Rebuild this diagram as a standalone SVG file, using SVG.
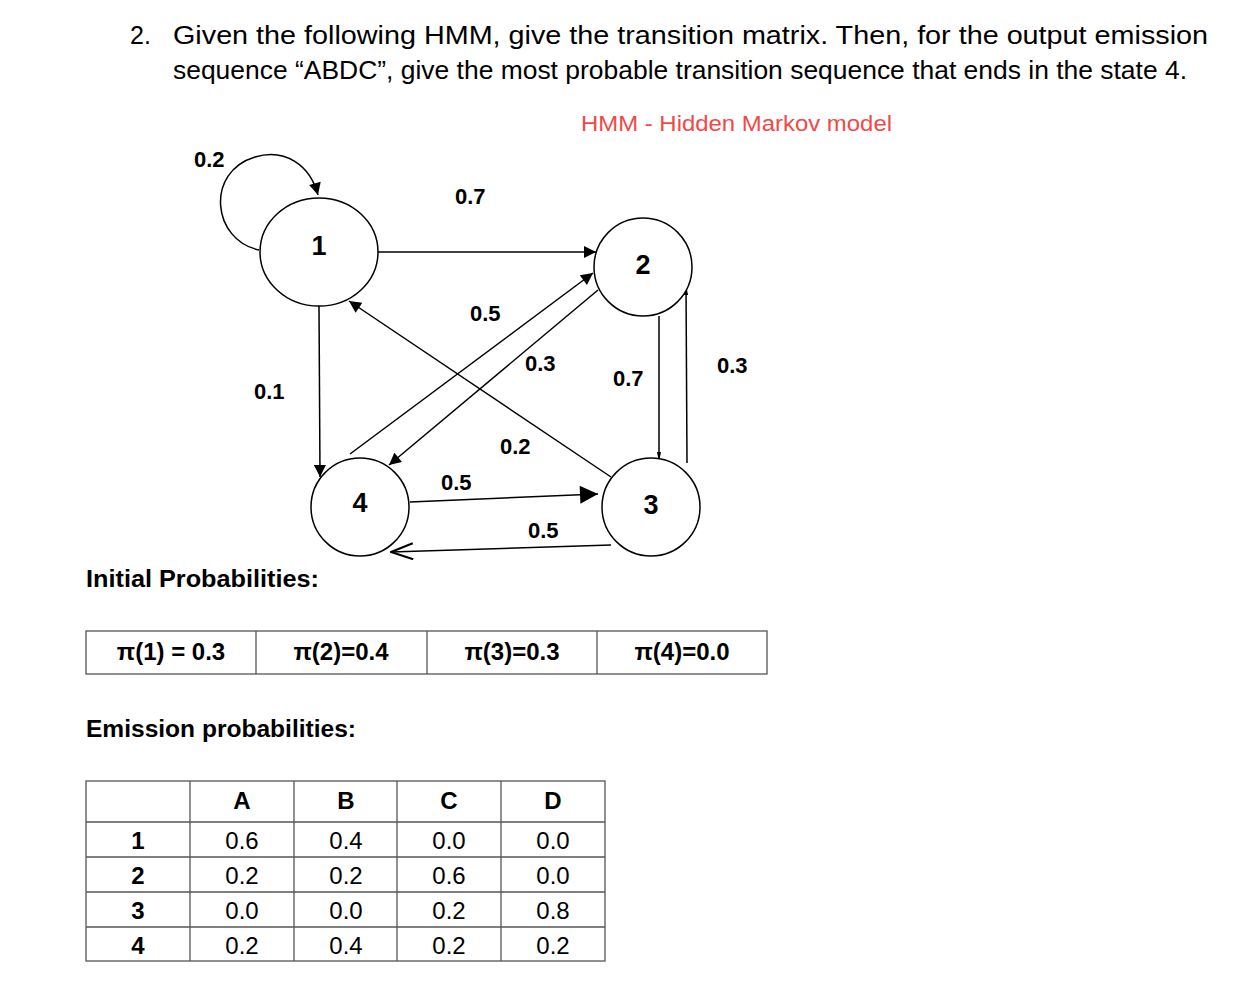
<svg xmlns="http://www.w3.org/2000/svg" width="1260" height="994" viewBox="0 0 1260 994">
<style>
text{font-family:"Liberation Sans",Arial,sans-serif;fill:#000}
.t{font-size:25px}
.b{font-weight:bold}
.lbl{font-size:22px;font-weight:bold}
.nd{font-size:27px;font-weight:bold;text-anchor:middle}
.node{fill:#fff;stroke:#000;stroke-width:1.5}
.e{fill:none;stroke:#000;stroke-width:1.5}
.cell{fill:none;stroke:#555;stroke-width:1.3}
.c{text-anchor:middle}
.v{font-size:24px}
</style>
<defs>
<marker id="ah" viewBox="0 0 10 10" refX="10" refY="5" markerWidth="14" markerHeight="12" markerUnits="userSpaceOnUse" orient="auto"><path d="M0,0 L10,5 L0,10 z"/></marker>
<marker id="big" viewBox="0 0 10 10" refX="10" refY="5" markerWidth="22" markerHeight="18" markerUnits="userSpaceOnUse" orient="auto"><path d="M0,0 L10,5 L0,10 z"/></marker>
<marker id="chev" viewBox="0 0 24 18" refX="23" refY="9" markerWidth="24" markerHeight="18" markerUnits="userSpaceOnUse" orient="auto"><path d="M1,1 L23,9 L1,17" fill="none" stroke="#000" stroke-width="2.2"/></marker>
<marker id="flat" viewBox="0 0 10 4" refX="10" refY="2" markerWidth="12" markerHeight="4" markerUnits="userSpaceOnUse" orient="auto"><path d="M0,0 L10,2 L0,4 z"/></marker>
</defs>

<g id="title">
<text class="t" x="130" y="44">2.</text>
<text class="t" x="173" y="44" textLength="1035" lengthAdjust="spacingAndGlyphs">Given the following HMM, give the transition matrix.  Then, for the output emission</text>
<text class="t" x="173" y="79" textLength="1014" lengthAdjust="spacingAndGlyphs">sequence “ABDC”, give the most probable transition sequence that ends in the state 4.</text>
<text x="581" y="131" style="font-size:22px;fill:#f24848" textLength="311" lengthAdjust="spacingAndGlyphs">HMM - Hidden Markov model</text>
</g>

<g id="connectors">
<path class="e" d="M259,250 C212,240 205,172 255,157 C285,148 310,165 318,195" marker-end="url(#ah)"/>
<line class="e" x1="378" y1="252" x2="596" y2="252" marker-end="url(#ah)"/>
<line class="e" x1="319" y1="306" x2="320" y2="477" marker-end="url(#ah)"/>
<line class="e" x1="611" y1="477" x2="349" y2="301" marker-end="url(#ah)"/>
<line class="e" x1="350" y1="454" x2="593" y2="273" marker-end="url(#ah)"/>
<line class="e" x1="598" y1="290" x2="389" y2="465" marker-end="url(#ah)"/>
<line class="e" x1="659" y1="316" x2="659" y2="462" marker-end="url(#flat)"/>
<line class="e" x1="687" y1="463" x2="686" y2="285" marker-end="url(#flat)"/>
<line class="e" x1="410" y1="502" x2="598" y2="494" marker-end="url(#big)"/>
<line class="e" x1="611" y1="545" x2="391" y2="552" marker-end="url(#chev)"/>
<text class="lbl" x="194" y="167">0.2</text>
<text class="lbl" x="455" y="204">0.7</text>
<text class="lbl" x="254" y="399">0.1</text>
<text class="lbl" x="470" y="321">0.5</text>
<text class="lbl" x="525" y="371">0.3</text>
<text class="lbl" x="500" y="454">0.2</text>
<text class="lbl" x="613" y="386">0.7</text>
<text class="lbl" x="717" y="373">0.3</text>
<text class="lbl" x="441" y="490">0.5</text>
<text class="lbl" x="528" y="538">0.5</text>
</g>

<g id="node1"><ellipse class="node" cx="319" cy="252" rx="59" ry="54"/><text class="nd" x="319" y="255">1</text></g>
<g id="node2"><circle class="node" cx="643" cy="267" r="49"/><text class="nd" x="643" y="274">2</text></g>
<g id="node3"><circle class="node" cx="651" cy="507" r="49"/><text class="nd" x="651" y="514">3</text></g>
<g id="node4"><circle class="node" cx="360" cy="507" r="49"/><text class="nd" x="360" y="512">4</text></g>

<g id="initial">
<text class="b" x="86" y="587" style="font-size:23px" textLength="233" lengthAdjust="spacingAndGlyphs">Initial Probabilities:</text>
<rect class="cell" x="86" y="631" width="681" height="43"/>
<line class="cell" x1="256" y1="631" x2="256" y2="674"/>
<line class="cell" x1="427" y1="631" x2="427" y2="674"/>
<line class="cell" x1="597" y1="631" x2="597" y2="674"/>
<text class="b c v" x="171" y="660">π(1) = 0.3</text>
<text class="b c v" x="341" y="660">π(2)=0.4</text>
<text class="b c v" x="512" y="660">π(3)=0.3</text>
<text class="b c v" x="682" y="660">π(4)=0.0</text>
</g>

<g id="emission">
<text class="b" x="86" y="737" style="font-size:23px" textLength="270" lengthAdjust="spacingAndGlyphs">Emission probabilities:</text>
<rect class="cell" x="86" y="781" width="519" height="180"/>
<line class="cell" x1="86" y1="822" x2="605" y2="822"/>
<line class="cell" x1="86" y1="857" x2="605" y2="857"/>
<line class="cell" x1="86" y1="892" x2="605" y2="892"/>
<line class="cell" x1="86" y1="927" x2="605" y2="927"/>
<line class="cell" x1="190" y1="781" x2="190" y2="961"/>
<line class="cell" x1="294" y1="781" x2="294" y2="961"/>
<line class="cell" x1="397" y1="781" x2="397" y2="961"/>
<line class="cell" x1="501" y1="781" x2="501" y2="961"/>
<g class="b c v">
<text x="242" y="809">A</text><text x="346" y="809">B</text><text x="449" y="809">C</text><text x="553" y="809">D</text>
<text x="138" y="849">1</text><text x="138" y="884">2</text><text x="138" y="919">3</text><text x="138" y="954">4</text>
</g>
<g class="c v">
<text x="242" y="849">0.6</text><text x="346" y="849">0.4</text><text x="449" y="849">0.0</text><text x="553" y="849">0.0</text>
<text x="242" y="884">0.2</text><text x="346" y="884">0.2</text><text x="449" y="884">0.6</text><text x="553" y="884">0.0</text>
<text x="242" y="919">0.0</text><text x="346" y="919">0.0</text><text x="449" y="919">0.2</text><text x="553" y="919">0.8</text>
<text x="242" y="954">0.2</text><text x="346" y="954">0.4</text><text x="449" y="954">0.2</text><text x="553" y="954">0.2</text>
</g>
</g>
</svg>
